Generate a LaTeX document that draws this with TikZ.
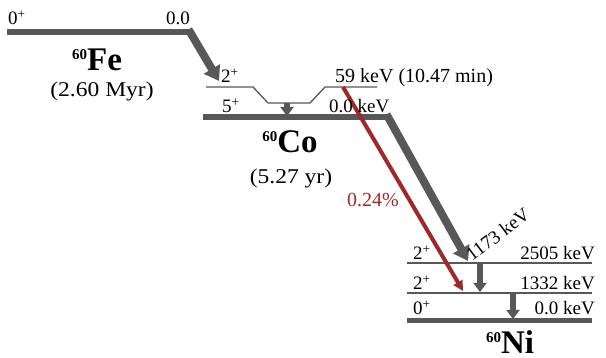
\documentclass[tikz,border=0pt]{standalone}
\usepackage{fontspec}
\setmainfont{Liberation Serif}
\newfontfamily\wideserif{Liberation Serif}[FakeStretch=1.12]
\usetikzlibrary{arrows.meta}
\definecolor{lvgray}{RGB}{88,88,88}
\definecolor{lvred}{RGB}{158,40,42}
\newcommand{\isoname}[2]{\bfseries\raisebox{11.5pt}{\fontsize{15}{15}\selectfont #1}\fontsize{33}{33}\selectfont #2}
\begin{document}
\begin{tikzpicture}[x=1pt,y=-1pt,
  lbl/.style={inner sep=0pt,font=\fontsize{19}{19}\selectfont},
  half/.style={inner sep=0pt,font=\wideserif\fontsize{21}{21}\selectfont},
  thicklevel/.style={draw=lvgray,line width=6pt},
  thinlevel/.style={draw=lvgray,line width=1.3pt},
  bigarrow/.style={draw=lvgray,line width=8pt,-{Triangle[width=18pt,length=14pt]}},
  smallarrow/.style={draw=lvgray,line width=5.5pt,-{Triangle[width=13pt,length=9pt]}},
  redarrow/.style={draw=lvred,line width=4pt,-{Triangle[width=10pt,length=10pt]}}]
\useasboundingbox (0,0) rectangle (606,358);
% coordinates
\coordinate (fe0) at (7,32);
\coordinate (fe1) at (190,32);
\coordinate (feTip) at (219,81);
\coordinate (coA) at (206,87);
\coordinate (coB) at (253,87);
\coordinate (coC) at (268,103);
\coordinate (coD) at (310,103);
\coordinate (coE) at (325,87);
\coordinate (coF) at (377,87);
\coordinate (co0) at (203,117);
\coordinate (co1) at (388,117);
\coordinate (coM) at (287,103);
\coordinate (coMt) at (287,116);
\coordinate (redS) at (343,87);
\coordinate (grayTip) at (468,261);
\coordinate (redTip) at (463,291);
\coordinate (ni2a) at (407,263);
\coordinate (ni2b) at (592,263);
\coordinate (ni1a) at (407,293);
\coordinate (ni1b) at (592,293);
\coordinate (ni0a) at (407,321);
\coordinate (ni0b) at (592,321);
\coordinate (g1s) at (480,263);
\coordinate (g1e) at (480,292);
\coordinate (g2s) at (513,293);
\coordinate (g2e) at (513,319);
% levels
\draw[thicklevel] (fe0) -- (fe1);
\draw[thinlevel] (coA) -- (coB) -- (coC) -- (coD) -- (coE) -- (coF);
\draw[thicklevel] (co0) -- (co1);
\draw[thinlevel] (ni2a) -- (ni2b);
\draw[thinlevel] (ni1a) -- (ni1b);
\draw[draw=lvgray,line width=5pt] (ni0a) -- (ni0b);
% transitions
\draw[bigarrow,shorten <=-3pt] (fe1) -- (feTip);
\draw[smallarrow] (coM) -- (coMt);
\draw[redarrow] (redS) -- (redTip);
\draw[bigarrow,shorten <=-3pt] (co1) -- (grayTip);
\draw[smallarrow] (g1s) -- (g1e);
\draw[smallarrow] (g2s) -- (g2e);
% labels Fe
\node[lbl,anchor=base west] (tFe0) at (8,25) {0\textsuperscript{+}};
\node[lbl,anchor=base east] (tFe1) at (190,25) {0.0};
\node[inner sep=0pt,anchor=base] (nFe) at (97,71) {\isoname{60}{Fe}};
\node[half,anchor=base] (hFe) at (102,97) {(2.60 Myr)};
% labels Co
\node[lbl,anchor=base west] (tCo2) at (221,83) {2\textsuperscript{+}};
\node[lbl,anchor=base west] (tCo5) at (222,113) {5\textsuperscript{+}};
\node[lbl,anchor=base west,font=\fontsize{20}{20}\selectfont] (tCo59) at (335,83) {59 keV (10.47 min)};
\node[lbl,anchor=base west] (tCo0) at (329,113) {0.0 keV};
\node[inner sep=0pt,anchor=base] (nCo) at (290,153) {\isoname{60}{Co}};
\node[half,anchor=base] (hCo) at (291,184) {(5.27 yr)};
\node[lbl,anchor=base west,text=lvred,font=\fontsize{20}{20}\selectfont] (tRed) at (347,207) {0.24\%};
\node[lbl,anchor=base west,rotate=37] (t1173) at (472,262) {1173 keV};
% labels Ni
\node[lbl,anchor=base west] (tNi2a) at (413,260) {2\textsuperscript{+}};
\node[lbl,anchor=base west] (tNi2b) at (413,290) {2\textsuperscript{+}};
\node[lbl,anchor=base west] (tNi0) at (413,315) {0\textsuperscript{+}};
\node[lbl,anchor=base east] (eNi2) at (595,260) {2505 keV};
\node[lbl,anchor=base east] (eNi1) at (595,290) {1332 keV};
\node[lbl,anchor=base east] (eNi0) at (595,315) {0.0 keV};
\node[inner sep=0pt,anchor=base] (nNi) at (510,354) {\isoname{60}{Ni}};
\end{tikzpicture}
\end{document}
